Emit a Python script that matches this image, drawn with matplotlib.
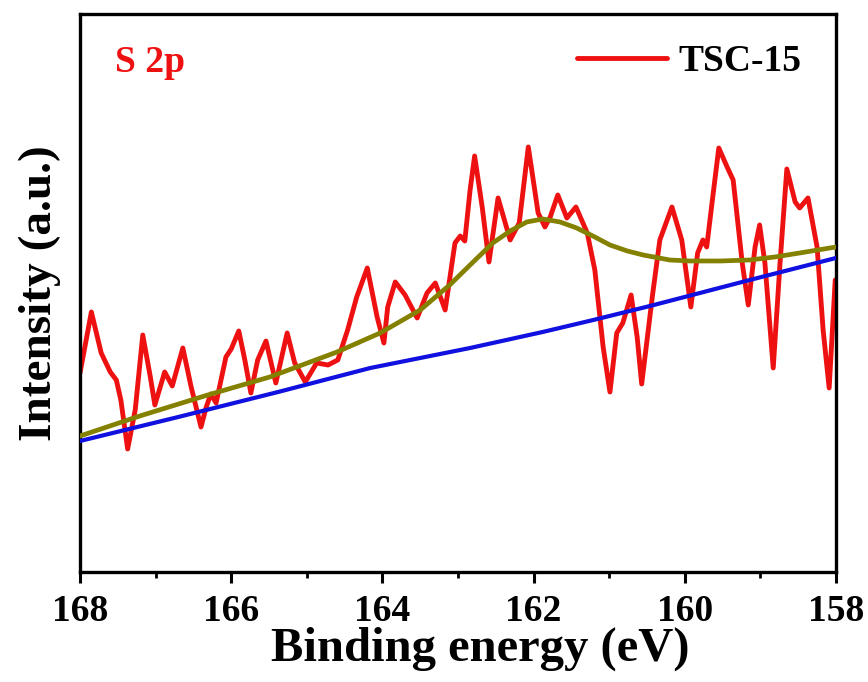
import matplotlib
matplotlib.use('Agg')
import matplotlib.pyplot as plt
from matplotlib.ticker import MultipleLocator, NullLocator

plt.rcParams['font.family'] = ['Liberation Serif', 'DejaVu Serif']
plt.rcParams['font.weight'] = 'bold'

# measured S 2p spectrum (binding energy in eV, intensity in a.u.)
raw_energy = [168.00, 167.85, 167.72, 167.60, 167.52, 167.46, 167.37, 167.27, 167.17, 167.07,
              167.01, 166.88, 166.78, 166.64, 166.53, 166.40, 166.33, 166.27, 166.20, 166.07,
              166.00, 165.90, 165.82, 165.74, 165.65, 165.54, 165.41, 165.26, 165.16, 165.02,
              164.87, 164.72, 164.59, 164.46, 164.34, 164.20, 164.07, 163.98, 163.93, 163.83,
              163.70, 163.54, 163.41, 163.30, 163.17, 163.04, 162.97, 162.91, 162.84, 162.78,
              162.68, 162.59, 162.47, 162.31, 162.19, 162.07, 161.94, 161.85, 161.78, 161.68,
              161.56, 161.44, 161.29, 161.19, 161.08, 160.99, 160.90, 160.82, 160.71, 160.63,
              160.57, 160.43, 160.33, 160.17, 160.04, 159.92, 159.83, 159.76, 159.71, 159.63,
              159.55, 159.44, 159.36, 159.24, 159.16, 159.07, 159.01, 158.94, 158.83, 158.74,
              158.65, 158.54, 158.48, 158.37, 158.25, 158.17, 158.09, 158.01]
raw_intensity = [200, 261, 220, 201, 193, 173, 124, 163, 238, 196,
                 168, 201, 187, 225, 186, 146, 166, 179, 170, 216,
                 224, 242, 213, 180, 213, 232, 190, 240, 210, 191,
                 210, 208, 213, 243, 276, 305, 256, 230, 266, 291,
                 278, 255, 280, 290, 263, 330, 337, 332, 383, 417,
                 366, 311, 375, 333, 350, 426, 360, 346, 356, 378,
                 355, 366, 340, 303, 226, 181, 240, 250, 278, 236,
                 189, 276, 333, 366, 333, 266, 320, 333, 326, 376,
                 425, 406, 393, 310, 268, 326, 348, 310, 205, 310,
                 404, 371, 365, 375, 326, 243, 185, 293]

# fitted envelope
fit_energy = [168.00, 167.21, 166.31, 165.49, 164.60, 164.03, 163.50, 163.11, 162.84, 162.54,
              162.31, 162.09, 161.88, 161.65, 161.43, 161.19, 160.99, 160.76, 160.55, 160.20,
              159.93, 159.53, 159.14, 158.81, 158.48, 158.00]
fit_intensity = [137, 157, 178, 196, 221, 240, 263, 288, 308, 330,
                 342, 351, 354, 351, 345, 336, 328, 322, 318, 313,
                 312, 312, 313, 316, 320, 326]

# background
bg_energy = [168.00, 166.70, 165.38, 164.16, 162.84, 161.88, 161.21, 160.46, 159.14, 158.00]
bg_intensity = [132, 156, 181, 205, 225, 241, 253, 267, 293, 315]

fig = plt.figure(figsize=(8.68, 6.82), dpi=100)
ax = fig.add_axes([0.0922, 0.1613, 0.8709, 0.8182])

ax.plot(raw_energy, raw_intensity, color='#ee1111', lw=3.5, label='TSC-15',
        solid_joinstyle='round', solid_capstyle='round', zorder=2)
ax.plot(fit_energy, fit_intensity, color='#848000', lw=3.4, zorder=3,
        solid_joinstyle='round')
ax.plot(bg_energy, bg_intensity, color='#1010e0', lw=3.0, zorder=3)

ax.set_xlim(168, 158)
ax.set_ylim(1, 559)
ax.xaxis.set_major_locator(MultipleLocator(2))
ax.xaxis.set_minor_locator(MultipleLocator(1))
ax.yaxis.set_major_locator(NullLocator())
ax.tick_params(axis='x', which='major', direction='out', length=8, width=2.2,
               labelsize=27, pad=8)
ax.tick_params(axis='x', which='minor', direction='out', length=4.5, width=2.0)
for lab in ax.get_xticklabels():
    lab.set_fontweight('bold')
for sp in ax.spines.values():
    sp.set_linewidth(2.4)

ax.set_xlabel('Binding energy (eV)', fontsize=35, fontweight='bold')
ax.xaxis.set_label_coords(0.530, -0.098)
ax.set_ylabel('Intensity (a.u.)', fontsize=34, fontweight='bold', labelpad=14)

ax.text(0.046, 0.896, 'S 2p', transform=ax.transAxes, color='#ee1111',
        fontsize=27, fontweight='bold', va='baseline')

leg = ax.legend(loc='upper right', bbox_to_anchor=(0.999, 1.006), frameon=False,
                handlelength=2.4, handletextpad=0.3, prop={'size': 27, 'weight': 'bold'})

fig.savefig('out.png', dpi=100)
